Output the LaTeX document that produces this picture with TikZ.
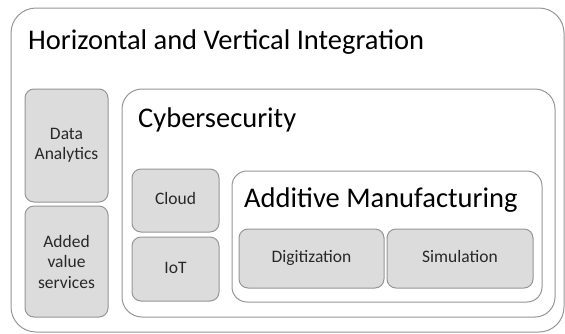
\documentclass[tikz,border=0pt]{standalone}
\usepackage{fontspec}
\setmainfont{Carlito}
\usepackage{xcolor}
\usetikzlibrary{positioning}

\definecolor{boxgray}{RGB}{220,220,220}
\definecolor{edgegray}{RGB}{150,150,150}
\definecolor{textgray}{RGB}{40,40,40}

\begin{document}
\begin{tikzpicture}[
  x=1pt, y=-1pt,
  frame/.style={draw=edgegray, line width=1pt, fill=white, inner sep=0pt},
  item/.style={draw=edgegray, line width=1pt, fill=boxgray, rounded corners=9pt, inner sep=0pt, align=center, text=textgray, font=\fontsize{17.5}{20.5}\selectfont},
  oneline/.style={item, text height=12pt, text depth=4pt},
  heading/.style={anchor=base west, inner sep=0pt, font=\fontsize{28.5}{32}\selectfont}
]
  \useasboundingbox (0,0) rectangle (565,333);

  % outer frames
  \node[frame, rounded corners=25pt, minimum width=553pt, minimum height=324pt] (integration) at (287.5,170) {};
  \node[heading] (integrationtitle) at (28,49) {Horizontal and Vertical Integration};

  \node[item, minimum width=83pt, minimum height=113pt] (analytics) at (66.5,145.5) {Data\\Analytics};
  \node[item, minimum width=83pt, minimum height=111pt] (services) at (66.5,261.5) {Added\\value\\services};

  \node[frame, rounded corners=20pt, minimum width=433pt, minimum height=228pt] (cyber) at (338.5,203) {};
  \node[heading] (cybertitle) at (138,127) {Cybersecurity};

  \node[oneline, minimum width=87pt, minimum height=63pt] (cloud) at (175.5,200.5) {Cloud};
  \node[oneline, minimum width=87pt, minimum height=64pt] (iot) at (175.5,269) {IoT};

  \node[frame, rounded corners=15pt, minimum width=310pt, minimum height=131pt] (additive) at (387,236.5) {};
  \node[heading] (additivetitle) at (244,207) {Additive Manufacturing};

  \node[oneline, minimum width=145pt, minimum height=59pt] (digitization) at (311.5,258.5) {Digitization};
  \node[oneline, minimum width=146pt, minimum height=59pt] (simulation) at (460,258.5) {Simulation};
\end{tikzpicture}
\end{document}
